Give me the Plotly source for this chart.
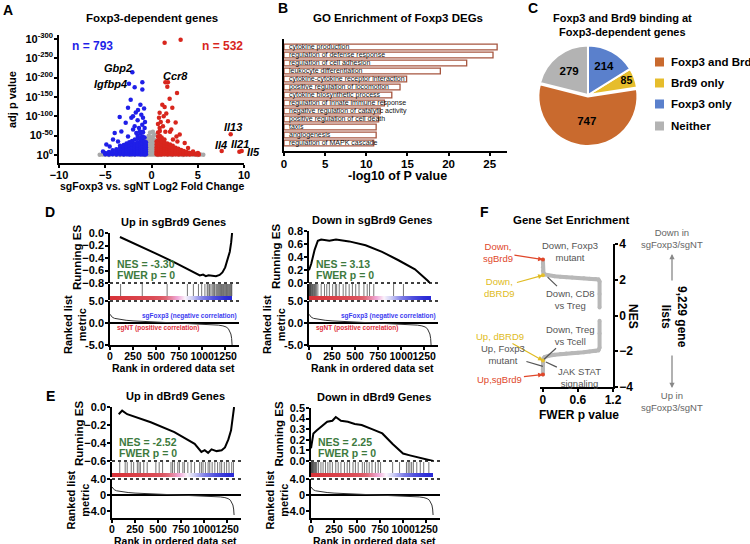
import plotly.graph_objects as go

W, H = 750, 544
FONT = "Liberation Sans, Arial, sans-serif"
BLUE = "#1f1fe8"
RED = "#d8261d"
GREY = "#a8a8a8"
GREEN = "#3d7a3d"

# ---------------- data: A volcano ----------------
blue_col_x = [-5.0, -4.6, -4.2, -3.8, -3.4, -3.0, -2.7, -2.4, -2.1, -1.8, -1.5, -1.2, -0.95, -0.75, -0.6]
blue_col_y = [[2, 5], [1, 3, 8], [2, 6, 12], [1, 4, 9, 15], [2, 6, 11, 18, 24], [1, 4, 8, 13, 19, 26],
              [2, 6, 10, 16, 22, 30], [1, 4, 8, 12, 18, 25, 33], [2, 5, 9, 14, 20, 27, 36],
              [1, 4, 8, 12, 17, 23, 30, 40], [2, 5, 9, 14, 19, 25, 32, 42, 50],
              [1, 4, 7, 11, 16, 21, 27, 34, 44, 55], [2, 5, 9, 13, 18, 24, 30, 38, 48, 60],
              [1, 4, 7, 11, 16, 22, 28, 35, 45], [2, 5, 9, 14, 20, 26, 33]]
blue_out_x = [-2.07, -2.43, -0.99, -1.82, -0.99, -2.25, -2.54, -1.46, -1.10, -0.92, -3.44, -2.18, -2.79,
              -1.82, -1.35, -3.98, -3.26, -2.54, -1.99, -1.64, -1.28, -0.74, -0.92, -4.16, -3.62, -4.88,
              -4.52, -5.24, -1.2, -0.8, -1.5, -0.7, -1.0, -2.0, -1.7]
blue_out_y = [214, 184, 188, 175, 169, 143, 122, 116, 104, 96, 98, 96, 83, 74, 70, 57, 61, 48, 66, 57, 61,
              70, 59, 40, 35, 27, 22, 9, 130, 120, 90, 85, 78, 100, 110]

red_col_x = [0.55, 0.7, 0.9, 1.1, 1.4, 1.7, 2.0, 2.3, 2.6, 2.9, 3.2, 3.5, 3.8, 4.1, 4.4, 4.8, 5.1]
red_col_y = [[2, 5, 9, 14, 20, 27, 35], [1, 4, 8, 12, 17, 23, 30, 38, 48, 58],
             [2, 5, 9, 13, 18, 24, 31, 40, 50, 62], [1, 4, 8, 12, 17, 22, 28, 36, 45],
             [2, 5, 9, 14, 19, 25, 32, 40], [1, 4, 8, 12, 17, 23, 30], [2, 5, 9, 14, 20, 27],
             [1, 4, 8, 12, 18, 24], [2, 5, 9, 14, 19], [1, 4, 8, 12, 16], [2, 5, 9, 13],
             [1, 4, 7, 10], [2, 5, 8], [1, 4, 6], [2, 4], [1, 3], [1, 2]]
red_out_x = [1.42, 3.15, 1.5, 1.78, 1.71, 2.76, 1.96, 1.17, 1.42, 2.25, 0.88, 1.32, 1.6, 0.81, 1.78, 2.61,
             1.24, 0.88, 2.14, 3.05, 2.7, 2.32, 3.59, 3.95, 4.49, 5.02, 8.56, 7.59, 9.5, 9.75,
             1.0, 0.7, 2.0, 1.5, 2.8]
red_out_y = [290, 298, 188, 188, 176, 160, 145, 130, 124, 122, 109, 100, 107, 96, 87, 84, 74, 70, 66, 53,
             48, 40, 31, 18, 9, 5, 53.5, 10, 8.5, 10, 85, 80, 60, 60, 35]

grey_col_x = [-0.45, -0.3, -0.15, 0.0, 0.15, 0.3, 0.45]
grey_col_y = [[1, 5, 10, 16, 24, 32, 42], [2, 7, 13, 20, 28, 38, 50], [1, 5, 11, 18, 26, 35, 45, 58],
              [2, 8, 14, 22, 30, 40], [1, 6, 12, 19, 27, 36, 48, 60], [2, 7, 13, 21, 29, 40, 52],
              [1, 5, 10, 17, 25, 34]]
grey_base_x = [-5.6, -5.3, -5.0, -4.6, -4.2, -3.8, -3.4, -3.0, -2.6, -2.2, -1.8, -1.4, -1.0, -0.7,
               0.7, 1.0, 1.4, 1.8, 2.2, 2.6, 3.0, 3.4, 3.8, 4.2, 4.6, 5.0, 5.3, 5.6]
grey_base_y = [0.5, 1, 0.5, 0, 1, 0.5, 0, 0.5, 1, 0, 0.5, 1, 0.5, 0,
               0, 0.5, 1, 0.5, 0, 1, 0.5, 0, 0.5, 1, 0.5, 0, 1, 0.5]

volcano_ticks = [0, 50, 100, 150, 200, 250, 300]
volcano_ticktext = ["10<sup>0</sup>", "10<sup>-50</sup>", "10<sup>-100</sup>", "10<sup>-150</sup>",
                    "10<sup>-200</sup>", "10<sup>-250</sup>", "10<sup>-300</sup>"]

# ---------------- data: B GO enrichment ----------------
go_terms = ["cytokine production", "regulation of defense response", "regulation of cell adhesion",
            "leukocyte differentiation", "cytokine-cytokine receptor interaction",
            "positive regulation of locomotion", "cytokine biosynthetic process",
            "regulation of innate immune response", "negative regulation of catalytic activity",
            "positive regulation of cell death", "taxis", "angiogenesis", "regulation of MAPK cascade"]
go_logp = [25.9, 25.4, 22.2, 19.0, 14.9, 14.1, 13.1, 12.2, 11.7, 11.5, 11.2, 11.2, 10.9]

# ---------------- data: C pie ----------------
pie_labels = ["Foxp3 and Brd9", "Brd9 only", "Foxp3 only", "Neither"]
pie_values = [747, 85, 214, 279]
pie_colors = ["#c96a2e", "#e6bd2c", "#5a80cc", "#b3b3b3"]

# ---------------- data: D/E GSEA ----------------
metric_rank = [0, 10, 25, 50, 100, 175, 250, 375, 500, 625, 750, 875, 1000, 1100, 1175, 1225, 1260,
               1285, 1300, 1312, 1320, 1325]
metric_val = [2.0, 1.6, 1.3, 1.05, 0.85, 0.62, 0.48, 0.35, 0.25, 0.15, 0.05, -0.07, -0.2, -0.33, -0.48,
              -0.65, -0.9, -1.3, -1.8, -2.5, -3.5, -5.0]
bar_edges = [0, 100, 200, 300, 400, 500, 600, 660, 720, 780, 840, 900, 960, 1020, 1080, 1140, 1200, 1260, 1325]
bar_shade = [1.0, 0.95, 0.9, 0.85, 0.8, 0.7, 0.45, 0.3, 0.15, 0.0, -0.15, -0.3, -0.45, -0.6, -0.75,
             -0.85, -0.95, -1.0]

up_sg_rank = [108, 300, 500, 700, 900, 975, 1010, 1040, 1070, 1110, 1150, 1190, 1220, 1250, 1280, 1300, 1315, 1325]
up_sg_es = [-0.064, -0.19, -0.33, -0.47, -0.62, -0.68, -0.665, -0.69, -0.675, -0.685, -0.69, -0.67, -0.63,
            -0.55, -0.42, -0.30, -0.15, 0.0]
up_sg_hits = [115, 350, 620, 840, 905, 960, 995, 1030, 1055, 1065, 1080, 1095, 1110, 1125, 1135, 1150, 1160,
              1170, 1180, 1190, 1200, 1210, 1220, 1230, 1238, 1247, 1256, 1265, 1274, 1283, 1292, 1300,
              1310, 1316, 1322]

dn_sg_rank = [0, 25, 61, 96, 132, 221, 293, 436, 614, 793, 971, 1150, 1292, 1310]
dn_sg_es = [0.196, 0.30, 0.51, 0.65, 0.67, 0.65, 0.67, 0.64, 0.58, 0.48, 0.35, 0.21, 0.03, 0.0]
dn_sg_hits = [2, 6, 10, 14, 18, 24, 30, 38, 45, 52, 60, 70, 80, 96, 132, 168, 193, 221, 257, 286, 300,
              328, 371, 400, 436, 471, 507, 543, 596, 632, 657, 703, 918, 1025]

up_db_rank = [73, 110, 165, 421, 677, 897, 970, 1006, 1043, 1080, 1135, 1190, 1226, 1263, 1292, 1310, 1325]
up_db_es = [-0.08, -0.04, -0.08, -0.17, -0.28, -0.41, -0.50, -0.48, -0.51, -0.47, -0.49, -0.48, -0.45,
            -0.36, -0.26, -0.11, 0.0]
up_db_hits = [84, 143, 165, 209, 235, 275, 293, 308, 345, 382, 476, 512, 549, 640, 657, 677, 714, 731, 769,
              786, 823, 859, 896, 951, 970, 988, 1014, 1043, 1061, 1087, 1116, 1146, 1171, 1190, 1219,
              1244, 1270, 1299, 1318]

dn_db_rank = [0, 26, 64, 120, 176, 232, 269, 325, 400, 475, 550, 662, 774, 886, 999, 1073, 1148, 1223, 1298, 1325]
dn_db_es = [0.12, 0.26, 0.29, 0.33, 0.37, 0.38, 0.415, 0.38, 0.37, 0.35, 0.34, 0.30, 0.26, 0.16, 0.07,
            0.053, 0.038, 0.022, 0.006, 0.0]
dn_db_hits = [2, 6, 10, 15, 20, 26, 33, 40, 48, 56, 64, 82, 108, 131, 157, 183, 206, 232, 269, 295, 325,
              363, 393, 419, 456, 482, 512, 557, 580, 606, 632, 662, 699, 729, 755, 886, 961, 1036, 1055,
              1073, 1092, 1111, 1148, 1186, 1223, 1279]

# ---------------- data: F gene set enrichment ----------------
fwer_up = [0, 0, 0, 0, 0.01, 0.03, 0.1, 0.2, 0.3, 0.4, 0.5, 0.6, 0.7, 0.8, 0.9, 0.95, 0.97, 0.97, 0.97]
nes_up = [3.1, 2.9, 2.7, 2.5, 2.38, 2.3, 2.24, 2.2, 2.17, 2.14, 2.12, 2.1, 2.08, 2.06, 2.04, 2.02, 1.9, 1.2, 0.45]
fwer_dn = [0.97, 0.97, 0.97, 0.95, 0.9, 0.8, 0.7, 0.6, 0.5, 0.4, 0.3, 0.2, 0.1, 0.03, 0.01, 0, 0, 0, 0]
nes_dn = [-0.3, -1.0, -1.8, -1.95, -1.98, -2.02, -2.05, -2.08, -2.1, -2.13, -2.16, -2.2, -2.25, -2.32, -2.4,
          -2.6, -2.8, -3.0, -3.3]


# ---------------- helpers ----------------
def px(x):
    return x / W


def py(y):
    return 1 - y / H


def xdom(a, b):
    return [a / W, b / W]


def ydom(top, bot):
    return [1 - bot / H, 1 - top / H]


lay = {}
anns = []
shapes = []
traces = []


def refs(i):
    s = "" if i == 1 else str(i)
    return dict(xaxis="x" + s, yaxis="y" + s)


def add_axes(i, xd, yd, xa, ya):
    s = "" if i == 1 else str(i)
    lay["xaxis" + s] = dict(domain=xd, anchor="y" + s, **xa)
    lay["yaxis" + s] = dict(domain=yd, anchor="x" + s, **ya)


def axis(**kw):
    d = dict(showline=True, linecolor="black", linewidth=1.5, ticks="outside", ticklen=3, tickwidth=1.5,
             tickcolor="black", showgrid=False, zeroline=False, fixedrange=True, tickangle=0,
             automargin=False, ticklabelstandoff=-1,
             tickfont=dict(family=FONT, size=11, color="black", weight="bold"))
    d.update(kw)
    return d


def text(s, x, y, size=11, color="black", angle=0, xanchor="center", bold=True):
    anns.append(dict(text=f"<b>{s}</b>" if bold else s, x=px(x), y=py(y), xref="paper", yref="paper",
                     showarrow=False, font=dict(family=FONT, size=size, color=color), textangle=angle,
                     xanchor=xanchor, yanchor="middle"))


def dotted(x0, x1, y):
    shapes.append(dict(type="line", xref="paper", yref="paper", x0=px(x0), x1=px(x1), y0=py(y), y1=py(y),
                       line=dict(color="black", width=1.5, dash="dot")))


def flat(cols_x, cols_y):
    xs = [x for x, ys in zip(cols_x, cols_y) for _ in ys]
    ys = [y for ys in cols_y for y in ys]
    return xs, ys


# ---------------- A: volcano ----------------
add_axes(1, xdom(59, 244), ydom(35, 163),
         axis(range=[-10, 10], tickvals=[-10, -5, 0, 5, 10], ticklabelstandoff=-2),
         axis(range=[-20.7, 310], tickvals=volcano_ticks, ticktext=volcano_ticktext))
gx, gy = flat(grey_col_x, grey_col_y)
bx, by = flat(blue_col_x, blue_col_y)
rx, ry = flat(red_col_x, red_col_y)
traces.append(go.Scatter(x=grey_base_x + gx, y=grey_base_y + gy, mode="markers",
                         marker=dict(color=GREY, size=4.5), **refs(1)))
traces.append(go.Scatter(x=bx + blue_out_x, y=by + blue_out_y, mode="markers",
                         marker=dict(color=BLUE, size=4.5), **refs(1)))
traces.append(go.Scatter(x=rx + red_out_x, y=ry + red_out_y, mode="markers",
                         marker=dict(color=RED, size=4.5), **refs(1)))
text("A", 8, 10, 14)
text("Foxp3-dependent genes", 152, 18, 11.5)
text("n = 793", 92, 46, 12, BLUE)
text("n = 532", 222, 46, 12, RED)
text("<i>Gbp2</i>", 118, 68, 11)
text("<i>Igfbp4</i>", 110, 84, 11)
text("<i>Ccr8</i>", 175, 76, 11)
text("<i>Il13</i>", 233, 127, 11)
text("<i>Il4</i>", 221, 145, 11)
text("<i>Il21</i>", 240, 144, 11)
text("<i>Il5</i>", 253, 152, 11)
text("adj p value", 12, 100, 11, angle=-90)
text("sgFoxp3 vs. sgNT Log2 Fold Change", 152, 186, 10.5)

# ---------------- B: GO bars ----------------
add_axes(2, xdom(284, 507), ydom(39, 151),
         axis(range=[0, 27.1], tickvals=[0, 5, 10, 15, 20, 25], ticklabelstandoff=-2,
              tickfont=dict(family=FONT, size=11.5, color="black", weight="bold")),
         axis(type="category", categoryorder="array", categoryarray=go_terms, range=[13, -1],
              ticks="", showticklabels=False))
traces.append(go.Bar(x=go_logp, y=go_terms, orientation="h", width=0.74,
                     marker=dict(color="white", line=dict(color="#a6553f", width=1.3)), **refs(2)))
for term in go_terms:
    anns.append(dict(text=term, x=0.35, y=term, xref="x2", yref="y2", showarrow=False, xanchor="left",
                     yanchor="middle", font=dict(family=FONT, size=7, color="#111")))
text("B", 283, 8, 14)
text("GO Enrichment of Foxp3 DEGs", 398, 18, 11.5)
text("-log10 of P value", 397, 176, 12.5)

# ---------------- C: pie ----------------
traces.append(go.Pie(labels=pie_labels, values=pie_values, sort=False, direction="counterclockwise",
                     rotation=81.2, marker=dict(colors=pie_colors, line=dict(color="white", width=2)),
                     pull=[0.03, 0, 0, 0], textinfo="value", textposition="inside",
                     insidetextorientation="horizontal",
                     textfont=dict(family=FONT, size=11.5, color="black", weight="bold"),
                     domain=dict(x=xdom(537, 639), y=ydom(44, 146)), hoverinfo="label+value"))
legend_y = [62, 83, 104, 126]
for lab, col, ly in zip(pie_labels, pie_colors, legend_y):
    shapes.append(dict(type="rect", xref="paper", yref="paper", x0=px(655), x1=px(664), y0=py(ly + 4.5),
                       y1=py(ly - 4.5), fillcolor=col, line=dict(width=0)))
    text(lab, 669, ly, 11.5, xanchor="left")
text("C", 533, 8, 14)
text("Foxp3 and Brd9 binding at<br>Foxp3-dependent genes", 622, 25, 11)


# ---------------- D/E: GSEA ----------------
def gsea(k, x0, es_top, es_bot, hit_bot, bar_bot, met_top, met_bot, es_range, es_tv, met_range, met_tv,
         met_tt, rank, es, hits, title, nes, corr_labels):
    b = 4 + 4 * k
    x1 = x0 + 129
    xd = xdom(x0, x1)
    xr = [0, 1400]
    hid = dict(visible=False, range=xr, fixedrange=True)
    plain_y = dict(range=[0, 1], showline=True, linecolor="black", linewidth=1.5, showticklabels=False,
                   ticks="", showgrid=False, zeroline=False, fixedrange=True)
    add_axes(b, xd, ydom(es_top, es_bot), hid,
             axis(range=es_range, tickvals=es_tv, tickformat=".1f"))
    add_axes(b + 1, xd, ydom(es_bot + 1, hit_bot), hid, plain_y)
    add_axes(b + 2, xd, ydom(hit_bot, bar_bot), hid, plain_y)
    add_axes(b + 3, xd, ydom(met_top, met_bot),
             axis(range=xr, tickvals=[0, 250, 500, 750, 1000, 1250], ticklabelstandoff=-2,
                  tickfont=dict(family=FONT, size=10.5, color="black", weight="bold")),
             axis(range=met_range, tickvals=met_tv, ticktext=met_tt, zeroline=True, zerolinewidth=2,
                  zerolinecolor="black"))
    traces.append(go.Scatter(x=rank, y=es, mode="lines", line=dict(color="black", width=2), **refs(b)))
    hx, hy = [], []
    for h in hits:
        hx += [h, h, None]
        hy += [0, 1, None]
    traces.append(go.Scatter(x=hx, y=hy, mode="lines", line=dict(color="#3a3a3a", width=0.7), **refs(b + 1)))
    traces.append(go.Heatmap(x=bar_edges, y=[0, 1], z=[bar_shade], zmin=-1, zmax=1, zsmooth="best",
                             showscale=False, hoverinfo="skip",
                             colorscale=[[0, "#2a2ad6"], [0.25, "#7a7ae6"], [0.42, "#d6d6f6"],
                                         [0.5, "#fbf4fb"], [0.6, "#f0a8d8"], [0.75, "#e07080"],
                                         [1, "#d8343a"]], **refs(b + 2)))
    traces.append(go.Scatter(x=metric_rank, y=metric_val, mode="lines", line=dict(color="#333", width=1),
                             **refs(b + 3)))
    dotted(x0, x1, es_bot)
    dotted(x0, x1, met_top)
    cx = x0 + 63
    text(title, cx, es_top - 11, 11)
    text("Running ES", x0 - 33, (es_top + es_bot) / 2, 11.5, angle=-90)
    text("Ranked list<br>metric", x0 - 35, (met_top + met_bot) / 2 + 2, 11, angle=-90)
    text("Rank in ordered data set", cx, met_bot + 23, 10.5)
    text(f"NES = {nes}", x0 + 5, es_bot - 19, 10.5, GREEN, xanchor="left")
    text("FWER p = 0", x0 + 5, es_bot - 8, 10.5, GREEN, xanchor="left")
    if corr_labels:
        text("sgFoxp3 (negative correlation)", x1, met_top + 15, 6.5, "#3c3cf0", xanchor="right")
        text("sgNT (positive correlation)", x0 + 5, met_top + 27, 6.5, "#e0303a", xanchor="left")


gsea(0, 110, 233, 283, 296, 300, 301, 345, [-0.8, 0], [-0.8, -0.6, -0.4, -0.2, 0.0], [-5, 5], [-5, 0, 5],
     ["-5.0", "0.0", "5.0"], up_sg_rank, up_sg_es, up_sg_hits, "Up in sgBrd9 Genes", "-3.30", True)
gsea(1, 309, 231, 283, 296, 300, 301, 345, [0, 0.8], [0, 0.2, 0.4, 0.6, 0.8], [-5, 5], [-5, 0, 5],
     ["-5.0", "0.0", "5.0"], dn_sg_rank, dn_sg_es, dn_sg_hits, "Down in sgBrd9 Genes", "3.13", True)
gsea(2, 112, 407, 461, 473, 477, 479, 518, [-0.6, 0], [-0.6, -0.4, -0.2, 0.0], [-5.75, 4], [-4, 0, 4],
     ["-4.0", "0", "4.0"], up_db_rank, up_db_es, up_db_hits, "Up in dBrd9 Genes", "-2.52", False)
gsea(3, 311, 408, 461, 473, 477, 479, 518, [0, 0.5], [0, 0.1, 0.2, 0.3, 0.4, 0.5], [-5.75, 4], [-4, 0, 4],
     ["-4.0", "0", "4.0"], dn_db_rank, dn_db_es, dn_db_hits, "Down in dBrd9 Genes", "2.25", False)
text("D", 50, 212, 14)
text("E", 50, 396, 14)

# ---------------- F: gene set enrichment ----------------
add_axes(3, xdom(540, 613), ydom(244, 387),
         axis(range=[-0.05, 1.2], tickvals=[0, 0.6, 1.2], ticktext=["0", "0.6", "1.2"], ticklabelstandoff=-2,
              tickfont=dict(family=FONT, size=12, color="black", weight="bold")),
         axis(range=[-4, 4], tickvals=[-4, -2, 0, 2, 4], side="right",
              tickfont=dict(family=FONT, size=12, color="black", weight="bold")))
traces.append(go.Scatter(x=fwer_up, y=nes_up, mode="lines+markers", line=dict(color="#b8b8b8", width=4),
                         marker=dict(color="#b8b8b8", size=4), **refs(3)))
traces.append(go.Scatter(x=fwer_dn, y=nes_dn, mode="lines+markers", line=dict(color="#b8b8b8", width=4),
                         marker=dict(color="#b8b8b8", size=4), **refs(3)))

hl_fwer = [0, 0, 0, 0]
hl_nes = [3.13, 2.25, -2.52, -3.30]
hl_color = ["#e0472a", "#e6c12e", "#e6c12e", "#e0472a"]
traces.append(go.Scatter(x=hl_fwer, y=hl_nes, mode="markers", marker=dict(color=hl_color, size=4),
                         cliponaxis=False, **refs(3)))


def callout(s, x, y, ax, ay, color, head=0, size=9.5):
    anns.append(dict(text=s, x=x, y=y, xref="x3", yref="y3", ax=ax, ay=ay, showarrow=True,
                     arrowhead=head, arrowsize=0.8, arrowwidth=1.2, arrowcolor=color,
                     font=dict(family=FONT, size=size, color=color)))


callout("Down,<br>sgBrd9", 0, 3.13, -45, -7, "#e0472a", 2)
callout("Down,<br>dBRD9", 0, 2.25, -43, 12, "#e0bb22", 2)
callout("Up, dBRD9", 0, -2.52, -43, -24, "#e0bb22", 2)
callout("Up,sgBrd9", 0, -3.30, -43, 5, "#e0472a", 2)
callout("Down, Foxp3<br>mutant", 0, 2.85, 27, -13, "#555")
callout("Down, CD8<br>vs Treg", 0.08, 2.15, 23, 22, "#555")
callout("Down, Treg<br>vs Tcell", 0.02, -2.45, 26, -24, "#555")
callout("Up, Foxp3<br>mutant", 0, -2.85, -40, -12, "#555")
callout("JAK STAT<br>signaling", 0.05, -2.6, 34, 16, "#555")
text("F", 485, 212, 14)
text("Gene Set Enrichment", 571, 220, 11.5)
text("FWER p value", 579, 415, 12)
text("NES", 633, 316, 12, angle=90)
text("Down in<br>sgFoxp3/sgNT", 672, 238, 9.5, "#666", bold=False)
text("Up in<br>sgFoxp3/sgNT", 672, 401, 9.5, "#666", bold=False)
text("9,229 gene<br>lists", 674, 317, 12, angle=90)
anns.append(dict(text="", x=px(672), y=py(254), xref="paper", yref="paper", ax=0, ay=28, showarrow=True,
                 arrowhead=2, arrowsize=0.8, arrowwidth=1.3, arrowcolor="#888"))
anns.append(dict(text="", x=px(672), y=py(388), xref="paper", yref="paper", ax=0, ay=-34, showarrow=True,
                 arrowhead=2, arrowsize=0.8, arrowwidth=1.3, arrowcolor="#888"))

lay.update(dict(width=W, height=H, margin=dict(l=0, r=0, t=0, b=0, autoexpand=False),
                plot_bgcolor="white", paper_bgcolor="white", annotations=anns, shapes=shapes,
                showlegend=False, font=dict(family=FONT, color="black")))

fig = go.Figure(data=traces, layout=lay)
fig.write_html("out.html", config={"displayModeBar": False},
               post_script="document.body.style.margin='0px';")
